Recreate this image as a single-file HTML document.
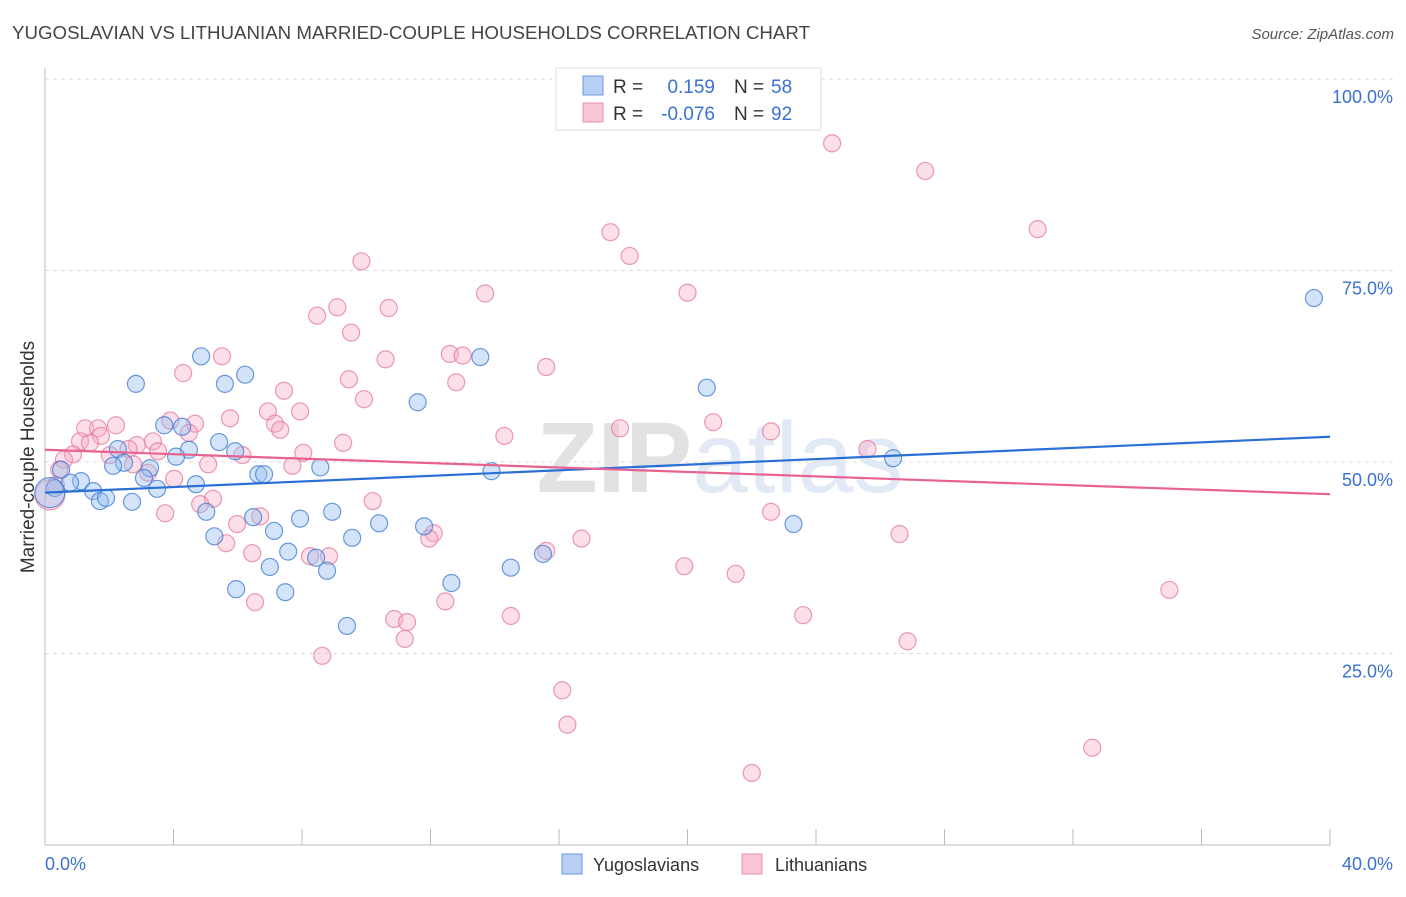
<!DOCTYPE html>
<html><head><meta charset="utf-8"><style>
body{margin:0;background:#fff;font-family:"Liberation Sans",sans-serif}
svg text{font-family:"Liberation Sans",sans-serif}
</style></head><body>
<svg id="chart" width="1406" height="892" xmlns="http://www.w3.org/2000/svg">
<text x="12" y="39" font-size="18" fill="#444" textLength="798" lengthAdjust="spacingAndGlyphs">YUGOSLAVIAN VS LITHUANIAN MARRIED-COUPLE HOUSEHOLDS CORRELATION CHART</text>
<text x="1394" y="39" font-size="15" fill="#555" text-anchor="end" font-style="italic">Source: ZipAtlas.com</text>
<g id="grid"></g>
<text x="720" y="492" font-size="100" fill="#e6e6e6" text-anchor="middle" font-family="Liberation Serif"><tspan font-weight="bold" fill="#e2e2e2">ZIP</tspan><tspan fill="#e0e9f5" font-family="Liberation Sans">atlas</tspan></text>
<g id="pts"></g>
<g id="lines"></g>
<text transform="translate(34,457) rotate(-90)" font-size="19" fill="#333" text-anchor="middle">Married-couple Households</text>
<g>
<rect x="556" y="68" width="265" height="62" fill="#fff" stroke="#ddd"/>
<rect x="583" y="76" width="20" height="19" fill="#b8d0f3" stroke="#6a9ae0"/>
<rect x="583" y="103" width="20" height="19" fill="#f9c6d5" stroke="#e890ab"/>
<text x="613" y="93" font-size="19" fill="#333">R =</text>
<text x="715" y="93" font-size="19" fill="#3a72cf" text-anchor="end">0.159</text>
<text x="734" y="93" font-size="19" fill="#333">N =</text>
<text x="771" y="93" font-size="19" fill="#3a72cf">58</text>
<text x="613" y="120" font-size="19" fill="#333">R =</text>
<text x="715" y="120" font-size="19" fill="#3a72cf" text-anchor="end">-0.076</text>
<text x="734" y="120" font-size="19" fill="#333">N =</text>
<text x="771" y="120" font-size="19" fill="#3a72cf">92</text>
</g>
<g>
<rect x="562" y="854" width="20" height="20" fill="#b8d0f3" stroke="#6a9ae0"/>
<text x="593" y="871" font-size="18" fill="#333">Yugoslavians</text>
<rect x="742" y="854" width="20" height="20" fill="#f9c6d5" stroke="#e890ab"/>
<text x="775" y="871" font-size="18" fill="#333">Lithuanians</text>
</g>
</svg>
<script>
const yTicks=[25,50,75,100];
const yTickLabels=["25.0%","50.0%","75.0%","100.0%"];
const xTickLabels=["0.0%","40.0%"];
const blueX=[39.5,13.55,4.86,2.83,5.6,6.23,20.6,11.6,3.71,4.27,5.42,4.48,2.27,5.92,2.46,2.12,3.27,4.08,8.57,6.64,6.82,3.08,4.7,3.49,1.12,0.78,1.5,1.71,1.9,2.71,13.9,26.4,5.02,6.48,7.94,8.94,10.4,11.8,23.3,7.13,5.27,9.56,7.57,8.44,15.5,7.0,8.78,14.5,12.65,5.95,7.48,9.4,0.3,0.5,0.15];
const blueY=[71.4,63.7,63.8,60.2,60.2,61.4,59.7,57.8,54.8,54.6,52.6,51.6,51.7,51.4,49.9,49.5,49.2,50.7,49.3,48.4,48.4,47.9,47.1,46.5,47.5,47.3,46.2,44.9,45.3,44.8,48.8,50.5,43.5,42.8,42.6,43.5,42.0,41.6,41.9,41.0,40.3,40.1,38.3,37.5,38.0,36.3,35.8,36.2,34.2,33.4,33.0,28.6,46.6,49.0,46.0];
const pinkX=[24.5,27.4,30.9,17.6,18.2,9.85,13.7,20.0,9.1,10.7,8.47,9.53,5.51,12.6,13.0,10.6,4.3,15.6,9.46,12.8,7.44,9.93,6.94,7.94,5.76,3.9,4.67,20.8,2.21,1.25,7.16,17.9,1.65,7.32,22.6,1.74,4.48,14.3,1.09,1.4,3.36,9.28,2.86,2.6,3.52,8.04,6.14,0.87,25.6,2.02,0.59,2.74,5.08,7.7,3.21,0.44,4.02,0.34,5.23,4.83,10.2,3.74,6.7,22.6,5.98,12.1,11.96,26.6,16.7,5.64,6.45,15.6,8.25,8.84,19.9,21.5,35.0,6.54,12.46,10.87,11.27,14.5,23.6,11.2,26.85,8.63,16.1,16.26,32.6,22.0,0.15];
const pinkY=[91.6,88.0,80.4,80.0,76.9,76.2,72.0,72.1,70.2,70.1,69.1,66.9,63.8,64.1,63.9,63.4,61.6,62.4,60.8,60.4,59.3,58.2,56.6,56.6,55.7,55.4,55.0,55.2,54.8,54.4,55.0,54.4,54.4,54.2,54.0,53.4,53.8,53.4,52.7,52.5,52.7,52.5,52.2,51.7,51.4,51.2,50.9,51.0,51.7,50.9,50.3,49.7,49.7,49.5,48.6,49.0,47.8,47.0,45.2,44.5,44.9,43.3,42.9,43.5,41.9,40.7,40.0,40.6,40.0,39.4,38.1,38.4,37.7,37.7,36.4,35.4,33.3,31.7,31.8,29.5,29.1,29.9,30.0,26.9,26.6,24.7,20.2,15.7,12.7,9.4,45.7];
const blueTrend=[46.0,53.3];
const pinkTrend=[51.6,45.8];
const NS="http://www.w3.org/2000/svg";
const X0=45,X1=1330,Y0=845,Y100=79;
function sx(v){return X0+(v/40)*(X1-X0);}
function sy(v){return Y0-(v/100)*(Y0-Y100);}
function mk(tag,attrs,parent){const e=document.createElementNS(NS,tag);for(const k in attrs)e.setAttribute(k,attrs[k]);parent.appendChild(e);return e;}
const grid=document.getElementById('grid');
yTicks.forEach((t,i)=>{
  const l=mk('line',{x1:X0,x2:1393,y1:sy(t),y2:sy(t),stroke:'#ddd','stroke-dasharray':'4,4'},grid);
  
  
  const tx=mk('text',{x:1393,y:sy(t)+24,'font-size':18,fill:'#3a72cf','text-anchor':'end'},grid);
  tx.textContent=yTickLabels[i];
  
  
});
const ax=mk('line',{x1:X0,x2:X1,y1:Y0,y2:Y0,stroke:'#bbb'},grid);


const ay=mk('line',{x1:X0,x2:X0,y1:68,y2:Y0,stroke:'#bbb'},grid);


for(let i=0;i<=10;i++){
  const t=mk('line',{x1:sx(i*4),x2:sx(i*4),y1:829,y2:Y0,stroke:'#bbb'},grid);
  
  
}
[[0,'start'],[40,'end']].forEach((p,i)=>{
  const tx=mk('text',{x:i?1393:45,y:870,'font-size':18,fill:'#3a72cf','text-anchor':p[1]},grid);
  tx.textContent=xTickLabels[i];
  
  
});
const pts=document.getElementById('pts');
function drawSeries(xs,ys,fill,stroke,name){
  xs.forEach((x,i)=>{
    const big=(x<0.2);
    const c=mk('circle',{cx:sx(x),cy:sy(ys[i]),r:big?15:8.5,fill:fill,stroke:stroke,'stroke-width':1.2},pts);
    
    
  });
}
drawSeries(pinkX,pinkY,'rgba(246,170,195,0.38)','rgba(230,120,155,0.75)','lithuanian-point');
drawSeries(blueX,blueY,'rgba(150,190,240,0.42)','rgba(60,120,210,0.75)','yugoslavian-point');
const lines=document.getElementById('lines');
const bl=mk('line',{x1:sx(0),x2:sx(40),y1:sy(blueTrend[0]),y2:sy(blueTrend[1]),stroke:'#2a6fd6','stroke-width':2.2},lines);


const pl=mk('line',{x1:sx(0),x2:sx(40),y1:sy(pinkTrend[0]),y2:sy(pinkTrend[1]),stroke:'#e8628f','stroke-width':2.2},lines);


</script>
</body></html>
